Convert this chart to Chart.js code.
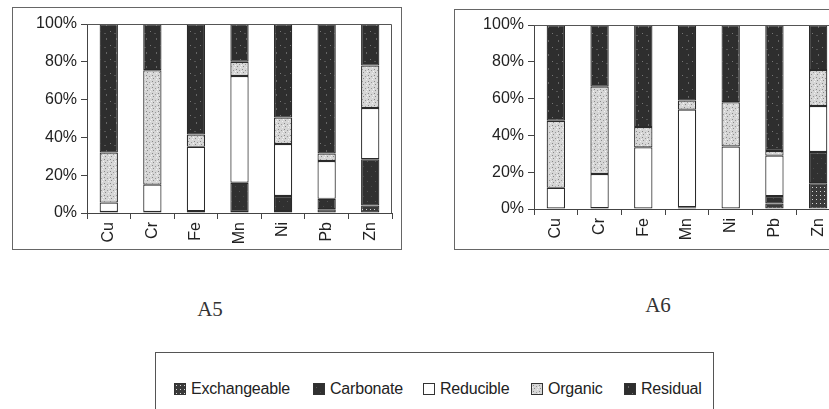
<!DOCTYPE html>
<html>
<head>
<meta charset="utf-8">
<script src="https://cdn.jsdelivr.net/npm/chart.js@4/dist/chart.umd.min.js"></script>
<style>
  body { margin: 0; width: 829px; height: 409px; overflow: hidden; background: #fff; position: relative;
         font-family: "Liberation Sans", Arial, sans-serif; color: #222; }
  .frame { position: absolute; border: 1px solid #666; box-sizing: border-box; }
  .frame canvas { position: absolute; left: 0; top: 0; }
  .title { position: absolute; font-family: "Liberation Serif", "DejaVu Serif", serif; font-size: 21px; color: #333;
           transform: translate(-50%, -50%); }
  #legend { position: absolute; left: 155px; top: 352px; width: 559px; height: 80px; border: 1px solid #555; box-sizing: border-box; }
  .item { position: absolute; top: 28px; font-size: 16px; letter-spacing: -0.2px; white-space: nowrap; line-height: 16px; }
  .item canvas { display: inline-block; vertical-align: -1px; margin-right: 5px; border: 1px solid #333; }
</style>
</head>
<body>
<div class="frame" style="left:12px;top:7px;width:390px;height:243px;"><canvas id="chartA5"></canvas></div>
<div class="frame" style="left:454px;top:9px;width:400px;height:241px;"><canvas id="chartA6"></canvas></div>
<div class="title" style="left:210px;top:309px;">A5</div>
<div class="title" style="left:658px;top:305px;">A6</div>
<div id="legend"></div>
<script>
// metals on the x axis
const metals = ['Cu', 'Cr', 'Fe', 'Mn', 'Ni', 'Pb', 'Zn'];
const fractions = ['Exchangeable', 'Carbonate', 'Reducible', 'Organic', 'Residual'];
const yTicks = [0, 20, 40, 60, 80, 100];

// A5, percent of each fraction
const a5Exchangeable = [0, 0, 0, 0.5, 1, 2, 4];
const a5Carbonate    = [0.5, 0.5, 1, 15.5, 8, 5.5, 24.5];
const a5Reducible    = [5, 14.5, 34, 56.5, 27.5, 20, 27];
const a5Organic      = [26.5, 60.5, 6.5, 7.5, 14, 4, 22.5];
const a5Residual     = [68, 24.5, 58.5, 20, 49.5, 68.5, 22];

// A6
const a6Exchangeable = [0, 0, 0, 0, 0, 3, 14];
const a6Carbonate    = [0, 0.5, 0, 1, 0, 4, 17];
const a6Reducible    = [11.5, 18.5, 33.5, 53, 34, 22, 25];
const a6Organic      = [36.5, 47.5, 11, 5, 24, 2.5, 19.5];
const a6Residual     = [52, 33.5, 55.5, 41, 42, 68.5, 24.5];

// little fill textures, like the scanned hatching
function makePattern(w, h, bg, dots) {
    const c = document.createElement('canvas');
    c.width = w; c.height = h;
    const g = c.getContext('2d');
    g.fillStyle = bg;
    g.fillRect(0, 0, w, h);
    dots.forEach(d => { g.fillStyle = d[4]; g.fillRect(d[0], d[1], d[2], d[3]); });
    return g.createPattern(c, 'repeat');
}
const fills = [
    makePattern(4, 4, '#3a3a3a', [[1, 1, 1, 1, '#d8d8d8']]),
    makePattern(8, 10, '#303030', [[2, 3, 1, 1, '#555'], [6, 8, 1, 1, '#4a4a4a']]),
    '#ffffff',
    makePattern(6, 6, '#d6d6d6', [[1, 1, 1, 1, '#888'], [4, 2, 1, 1, '#999'], [2, 4, 1, 1, '#8a8a8a'], [5, 5, 1, 1, '#f0f0f0'], [0, 3, 1, 1, '#f4f4f4']]),
    makePattern(10, 14, '#2e2e2e', [[3, 2, 1, 2, '#666'], [7, 9, 1, 1, '#777'], [1, 11, 2, 1, '#555']])
];

const plotBox = {
    id: 'plotBox',
    afterDraw(chart) {
        const a = chart.chartArea, c = chart.ctx;
        c.save();
        c.strokeStyle = '#555';
        c.lineWidth = 1;
        c.beginPath();
        c.moveTo(a.left, a.top + 0.5);
        c.lineTo(a.right - 0.5, a.top + 0.5);
        c.lineTo(a.right - 0.5, a.bottom);
        c.stroke();
        c.restore();
    }
};

function buildChart(id, w, h, pad, series) {
    const canvas = document.getElementById(id);
    canvas.width = w; canvas.height = h;
    return new Chart(canvas.getContext('2d'), {
        type: 'bar',
        data: {
            labels: metals,
            datasets: fractions.map((name, i) => ({
                label: name,
                data: series[i],
                backgroundColor: fills[i],
                borderColor: '#2a2a2a',
                borderWidth: 1.2,
                borderSkipped: false,
                barPercentage: 1,
                categoryPercentage: 0.42
            }))
        },
        options: {
            responsive: false,
            animation: false,
            layout: { padding: { left: 0, top: pad.top, right: pad.right, bottom: 0 } },
            plugins: { legend: { display: false }, tooltip: { enabled: false } },
            scales: {
                x: {
                    stacked: true,
                    grid: { drawOnChartArea: false, tickLength: 6, color: '#444' },
                    border: { color: '#444' },
                    ticks: { minRotation: 90, maxRotation: 90, padding: 3, color: '#222',
                             font: { family: 'Liberation Sans', size: 16 } },
                    afterFit: s => { s.height = pad.bottom; }
                },
                y: {
                    stacked: true,
                    min: 0, max: 100,
                    grid: { drawOnChartArea: false, tickLength: 6, color: '#444' },
                    border: { color: '#444' },
                    afterBuildTicks: s => { s.ticks = yTicks.map(v => ({ value: v })); },
                    ticks: { callback: v => v + '%', padding: 4, color: '#222',
                             font: { family: 'Liberation Sans', size: 16 } },
                    afterFit: s => { s.width = pad.left; }
                }
            }
        },
        plugins: [plotBox]
    });
}

buildChart('chartA5', 388, 241, { left: 74, top: 16, right: 9, bottom: 36 },
    [a5Exchangeable, a5Carbonate, a5Reducible, a5Organic, a5Residual]);
buildChart('chartA6', 398, 239, { left: 79, top: 15, right: 13, bottom: 40 },
    [a6Exchangeable, a6Carbonate, a6Reducible, a6Organic, a6Residual]);

// legend row
const legendLeft = [18, 157, 267, 375, 468];
const legend = document.getElementById('legend');
fractions.forEach((name, i) => {
    const item = document.createElement('div');
    item.className = 'item';
    item.style.left = legendLeft[i] + 'px';
    const sw = document.createElement('canvas');
    sw.width = 10; sw.height = 10;
    const g = sw.getContext('2d');
    g.fillStyle = fills[i];
    g.fillRect(0, 0, 10, 10);
    item.appendChild(sw);
    item.appendChild(document.createTextNode(name));
    legend.appendChild(item);
});
</script>
</body>
</html>
